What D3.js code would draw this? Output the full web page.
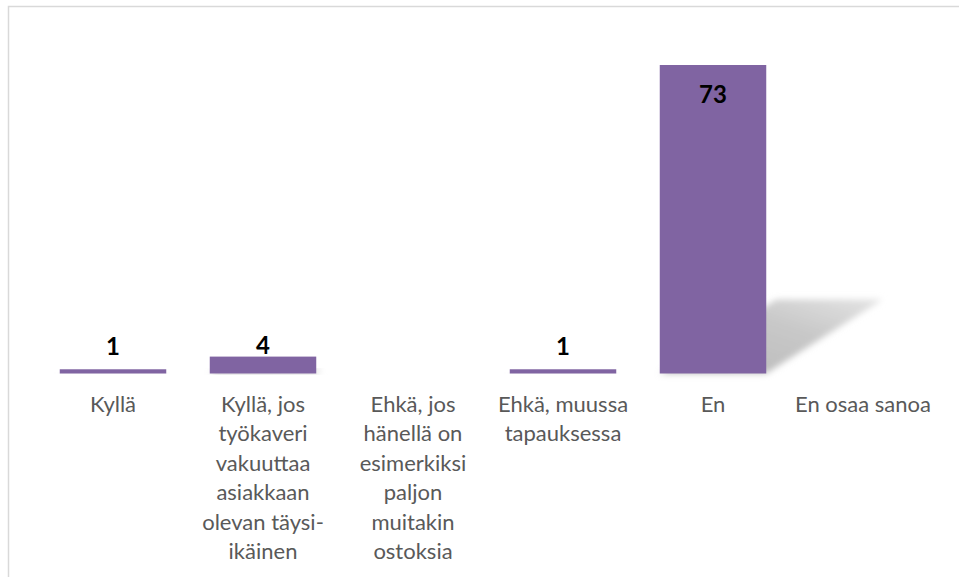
<!DOCTYPE html>
<html>
<head>
  <meta charset="UTF-8">
  <title>Vastaukset</title>
  <script src="https://d3js.org/d3.v7.min.js"></script>
  <style>
    body { margin: 0; background: #fff; }
    .cat { font-family: Lato, "Open Sans", sans-serif; font-size: 22px; fill: #595959; }
    .val { font-family: Lato, sans-serif; font-size: 24px; font-weight: bold; fill: #000; }
  </style>
</head>
<body>
  <div id="chart"></div>
  <script>
    // Data
    var categories = [
      "Kyllä",
      "Kyllä, jos\ntyökaveri\nvakuuttaa\nasiakkaan\nolevan täysi-\nikäinen",
      "Ehkä, jos\nhänellä on\nesimerkiksi\npaljon\nmuitakin\nostoksia",
      "Ehkä, muussa\ntapauksessa",
      "En",
      "En osaa sanoa"
    ];
    var values = [1, 4, 0, 1, 73, 0];

    var width = 959, height = 577;
    var baseY = 373.5, topY = 65;

    var svg = d3.select("#chart").append("svg")
        .attr("width", width)
        .attr("height", height);

    // blur + fading fill for the bar shadows
    var defs = svg.append("defs");
    defs.append("filter")
        .attr("id", "blur")
        .attr("x", "-20%").attr("y", "-20%")
        .attr("width", "140%").attr("height", "140%")
      .append("feGaussianBlur")
        .attr("stdDeviation", 3);
    var grad = defs.append("linearGradient")
        .attr("id", "shade")
        .attr("x1", 0).attr("y1", 1).attr("x2", 1).attr("y2", 0);
    grad.append("stop").attr("offset", "0%").attr("stop-color", "#b8b8b8");
    grad.append("stop").attr("offset", "60%").attr("stop-color", "#c8c8c8");
    grad.append("stop").attr("offset", "100%").attr("stop-color", "#e4e4e4");

    // chart area border (runs off the right and bottom edge)
    svg.append("rect")
        .attr("x", 8.5).attr("y", 6.5)
        .attr("width", 1000).attr("height", 700)
        .attr("fill", "none")
        .attr("stroke", "#d9d9d9")
        .attr("stroke-width", 1.5);

    var x = d3.scaleBand()
        .domain(categories)
        .range([38, 938])
        .paddingInner(0.29)
        .paddingOuter(0.145);

    var y = d3.scaleLinear()
        .domain([0, 73])
        .range([baseY, topY]);

    var data = categories.map(function(c, i) { return {cat: c, value: values[i]}; });
    var shown = data.filter(function(d) { return d.value > 0; });

    // shadows cast to the right of each bar
    svg.append("g")
      .selectAll("polygon")
      .data(shown)
      .enter().append("polygon")
        .attr("fill", "url(#shade)")
        .attr("filter", "url(#blur)")
        .attr("points", function(d) {
          var h = y(0) - y(d.value);
          var dx = h * 0.377, dh = h * 0.24;
          var x0 = x(d.cat), x1 = x(d.cat) + x.bandwidth();
          return [[x0, baseY], [x1, baseY], [x1 + dx, baseY - dh], [x0 + dx, baseY - dh]]
            .map(function(p) { return p.join(","); }).join(" ");
        });

    // bars
    svg.append("g")
      .selectAll("rect")
      .data(shown)
      .enter().append("rect")
        .attr("x", function(d) { return x(d.cat); })
        .attr("y", function(d) { return y(d.value); })
        .attr("width", x.bandwidth())
        .attr("height", function(d) { return y(0) - y(d.value); })
        .attr("fill", "#8064a2");

    // value labels: inside the top for the tall bar, above otherwise
    svg.append("g")
      .selectAll("text")
      .data(shown)
      .enter().append("text")
        .attr("class", "val")
        .attr("text-anchor", "middle")
        .attr("x", function(d) { return x(d.cat) + x.bandwidth() / 2; })
        .attr("y", function(d) {
          var h = y(0) - y(d.value);
          if (h > 60) return y(d.value) + 38;
          return Math.min(y(d.value) - 3, baseY - 18.5);
        })
        .text(function(d) { return d.value; });

    // category labels, wrapped
    var labels = svg.append("g")
      .selectAll("text")
      .data(categories)
      .enter().append("text")
        .attr("class", "cat")
        .attr("text-anchor", "middle")
        .attr("x", function(d) { return x(d) + x.bandwidth() / 2; })
        .attr("y", 412);

    labels.selectAll("tspan")
      .data(function(d) { return d.split("\n"); })
      .enter().append("tspan")
        .attr("x", function() { var p = d3.select(this.parentNode).datum(); return x(p) + x.bandwidth() / 2; })
        .attr("dy", function(d, i) { return i === 0 ? 0 : 29.4; })
        .text(function(d) { return d; });
  </script>
</body>
</html>
